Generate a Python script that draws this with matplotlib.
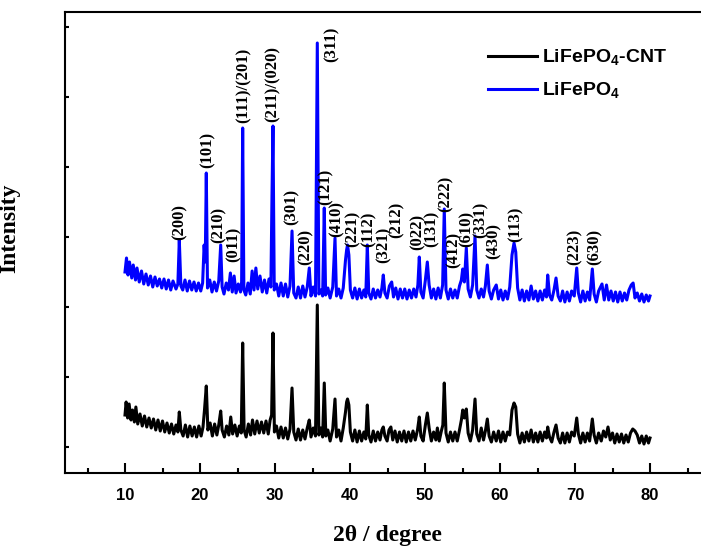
import numpy as np
import matplotlib
matplotlib.use('Agg')
import matplotlib.pyplot as plt
from matplotlib.ticker import MultipleLocator, FixedLocator

# XRD patterns (2-theta in degree, intensity in a.u.)
lfp_tth = [
    10.0, 10.2, 10.4, 10.6, 10.9, 11.1, 11.4, 11.6, 11.9, 12.2,
    12.5, 12.8, 13.1, 13.4, 13.7, 14.0, 14.3, 14.6, 14.9, 15.2,
    15.5, 15.8, 16.1, 16.4, 16.8, 17.05, 17.24, 17.45, 17.7, 18.0,
    18.3, 18.6, 18.9, 19.2, 19.5, 19.8, 20.1, 20.35, 20.55, 20.7,
    20.84, 21.0, 21.3, 21.6, 21.9, 22.2, 22.5, 22.76, 22.95, 23.2,
    23.5, 23.8, 24.05, 24.3, 24.55, 24.8, 25.1, 25.4, 25.55, 25.69,
    25.85, 26.1, 26.4, 26.7, 26.95, 27.2, 27.45, 27.7, 28.0, 28.3,
    28.6, 28.9, 29.2, 29.45, 29.6, 29.73, 29.9, 30.2, 30.5, 30.8,
    31.1, 31.4, 31.7, 32.0, 32.27, 32.5, 32.8, 33.1, 33.4, 33.7,
    34.0, 34.3, 34.57, 34.8, 35.1, 35.4, 35.64, 35.85, 36.1, 36.35,
    36.57, 36.75, 37.05, 37.35, 37.7, 38.0, 38.2, 38.5, 38.8, 39.1,
    39.4, 39.55, 39.67, 39.85, 40.05, 40.35, 40.65, 40.95, 41.25, 41.55,
    41.85, 42.1, 42.31, 42.5, 42.8, 43.1, 43.4, 43.7, 44.0, 44.25,
    44.44, 44.65, 44.95, 45.25, 45.56, 45.8, 46.1, 46.4, 46.7, 47.0,
    47.3, 47.6, 47.9, 48.2, 48.5, 48.8, 49.05, 49.24, 49.45, 49.75,
    50.05, 50.31, 50.55, 50.85, 51.15, 51.45, 51.75, 52.05, 52.35, 52.57,
    52.8, 53.1, 53.4, 53.7, 54.0, 54.3, 54.6, 54.85, 55.03, 55.25,
    55.51, 55.75, 56.05, 56.35, 56.67, 56.9, 57.2, 57.5, 57.8, 58.05,
    58.31, 58.55, 58.85, 59.15, 59.5, 59.8, 60.1, 60.4, 60.7, 61.0,
    61.3, 61.6, 61.87, 62.1, 62.35, 62.65, 62.95, 63.25, 63.55, 63.85,
    64.15, 64.45, 64.75, 65.05, 65.35, 65.65, 65.95, 66.2, 66.36, 66.6,
    66.9, 67.2, 67.47, 67.75, 68.05, 68.35, 68.65, 68.95, 69.25, 69.55,
    69.9, 70.23, 70.45, 70.75, 71.05, 71.35, 71.65, 71.95, 72.31, 72.55,
    72.85, 73.15, 73.6, 73.9, 74.2, 74.5, 74.8, 75.1, 75.4, 75.7,
    76.0, 76.3, 76.6, 76.9, 77.2, 77.5, 77.75, 78.0, 78.3, 78.6,
    78.9, 79.2, 79.5, 79.8, 80.0]
lfp_int = [
    280, 420, 250, 380, 220, 350, 200, 320, 180, 290,
    160, 260, 150, 240, 130, 230, 140, 210, 120, 210,
    110, 200, 100, 190, 110, 160, 600, 140, 100, 200,
    90, 190, 100, 180, 90, 170, 90, 170, 550, 380,
    1270, 120, 200, 80, 180, 90, 190, 550, 130, 60,
    170, 100, 270, 80, 240, 70, 160, 80, 180, 1720,
    100, 50, 170, 60, 290, 100, 320, 110, 240, 80,
    200, 70, 210, 130, 1050, 1740, 100, 160, 40, 170,
    40, 160, 30, 140, 690, 70, 20, 130, 20, 140,
    30, 130, 320, 40, 130, 40, 2570, 60, 100, 40,
    920, 50, 120, 20, 130, 620, 40, 110, 20, 120,
    400, 500, 550, 450, 100, 20, 120, 10, 110, 20,
    100, 30, 550, 70, 10, 110, 20, 100, 30, 120,
    250, 70, 20, 140, 180, 30, 120, 10, 110, 20,
    110, 10, 100, 20, 110, 30, 150, 430, 80, 20,
    200, 380, 150, 20, 110, 10, 120, 20, 150, 910,
    100, 10, 110, 20, 100, 20, 140, 200, 310, 180,
    520, 110, 30, 150, 640, 100, 20, 110, 30, 140,
    350, 90, 10, 100, 150, 10, 100, 0, 90, 10,
    130, 450, 570, 480, 120, 0, 100, -10, 90, 0,
    140, 10, 90, -10, 90, 0, 100, 30, 250, 50,
    0, 100, 220, 40, -10, 90, -20, 80, -10, 90,
    40, 320, 70, -20, 90, -10, 80, 0, 310, 60,
    -20, 90, 160, 0, 150, 0, 90, -10, 80, -20,
    80, -10, 70, 0, 100, 150, 170, 20, 70, -10,
    60, -20, 50, -10, 40]

cnt_tth = [
    10.0, 10.15, 10.35, 10.55, 10.8, 11.0, 11.25, 11.45, 11.7, 12.0,
    12.3, 12.6, 12.9, 13.2, 13.5, 13.8, 14.1, 14.4, 14.7, 15.0,
    15.3, 15.6, 15.9, 16.2, 16.5, 16.8, 17.05, 17.24, 17.45, 17.75,
    18.05, 18.35, 18.65, 18.95, 19.25, 19.55, 19.85, 20.15, 20.4, 20.6,
    20.84, 21.05, 21.35, 21.65, 21.95, 22.25, 22.5, 22.76, 22.95, 23.25,
    23.55, 23.85, 24.1, 24.35, 24.65, 24.95, 25.25, 25.5, 25.69, 25.88,
    26.15, 26.45, 26.75, 27.0, 27.3, 27.6, 27.9, 28.2, 28.5, 28.8,
    29.1, 29.35, 29.55, 29.73, 29.92, 30.2, 30.5, 30.8, 31.1, 31.4,
    31.7, 32.0, 32.27, 32.5, 32.8, 33.1, 33.4, 33.7, 34.0, 34.3,
    34.57, 34.8, 35.1, 35.4, 35.64, 35.85, 36.1, 36.35, 36.57, 36.78,
    37.05, 37.35, 37.7, 38.0, 38.2, 38.5, 38.8, 39.1, 39.4, 39.55,
    39.67, 39.85, 40.05, 40.35, 40.65, 40.95, 41.25, 41.55, 41.85, 42.1,
    42.31, 42.5, 42.8, 43.1, 43.4, 43.7, 44.0, 44.25, 44.44, 44.65,
    44.95, 45.2, 45.45, 45.7, 46.0, 46.3, 46.6, 46.9, 47.2, 47.5,
    47.8, 48.1, 48.4, 48.7, 49.0, 49.24, 49.45, 49.75, 50.05, 50.31,
    50.55, 50.85, 51.15, 51.45, 51.65, 51.9, 52.15, 52.38, 52.57, 52.8,
    53.1, 53.4, 53.7, 54.0, 54.3, 54.6, 54.85, 55.03, 55.25, 55.51,
    55.75, 56.05, 56.35, 56.67, 56.9, 57.2, 57.5, 57.8, 58.05, 58.31,
    58.55, 58.85, 59.15, 59.5, 59.8, 60.1, 60.4, 60.7, 61.0, 61.3,
    61.6, 61.87, 62.1, 62.35, 62.65, 62.95, 63.25, 63.55, 63.85, 64.15,
    64.45, 64.75, 65.05, 65.35, 65.65, 65.95, 66.2, 66.36, 66.6, 66.9,
    67.2, 67.47, 67.75, 68.05, 68.35, 68.65, 68.95, 69.25, 69.55, 69.9,
    70.23, 70.45, 70.75, 71.05, 71.35, 71.65, 71.95, 72.31, 72.55, 72.85,
    73.15, 73.5, 73.8, 74.1, 74.4, 74.7, 75.0, 75.3, 75.6, 75.9,
    76.2, 76.5, 76.8, 77.1, 77.4, 77.7, 78.0, 78.3, 78.6, 78.9,
    79.2, 79.5, 79.8, 80.0]
cnt_int = [
    300, 430, 270, 410, 250, 350, 230, 380, 210, 310,
    190, 290, 180, 270, 170, 260, 150, 250, 140, 240,
    130, 220, 120, 210, 110, 200, 130, 330, 150, 90,
    200, 80, 190, 90, 180, 80, 190, 90, 180, 350,
    590, 150, 220, 90, 210, 100, 200, 340, 150, 80,
    190, 100, 280, 110, 200, 90, 190, 120, 1020, 150,
    80, 210, 100, 250, 110, 240, 120, 230, 120, 240,
    110, 250, 300, 1120, 130, 190, 70, 180, 70, 170,
    60, 160, 570, 130, 50, 160, 50, 150, 60, 170,
    250, 80, 170, 90, 1400, 100, 170, 80, 620, 90,
    150, 40, 160, 460, 80, 150, 40, 170, 330, 430,
    460, 400, 130, 40, 150, 30, 140, 40, 130, 60,
    400, 100, 30, 140, 40, 130, 50, 150, 180, 90,
    40, 150, 180, 50, 140, 30, 130, 40, 140, 30,
    130, 40, 140, 50, 150, 280, 90, 40, 200, 320,
    170, 40, 130, 50, 170, 40, 130, 200, 620, 120,
    30, 130, 40, 130, 40, 150, 250, 350, 270, 360,
    120, 40, 150, 460, 110, 40, 170, 50, 140, 260,
    90, 30, 130, 40, 140, 30, 130, 40, 130, 100,
    350, 420, 380, 110, 20, 120, 30, 130, 40, 150,
    30, 120, 30, 130, 40, 130, 70, 180, 80, 30,
    130, 200, 70, 20, 120, 20, 120, 30, 130, 90,
    270, 110, 20, 120, 30, 120, 40, 260, 100, 20,
    120, 40, 140, 80, 180, 50, 120, 20, 110, 30,
    110, 20, 100, 30, 120, 160, 140, 100, 20, 90,
    10, 90, 20, 70]

# Miller indices marked above the LiFePO4 pattern
hkl_labels = ['(200)', '(101)', '(210)', '(011)', '(111)/(201)', '(211)/(020)',
              '(301)', '(220)', '(311)', '(121)', '(410)', '(221)', '(112)',
              '(321)', '(212)', '(022)', '(131)', '(222)', '(412)', '(610)',
              '(331)', '(430)', '(113)', '(223)', '(630)']
# where the labels sit (2-theta, bottom of label)
hkl_x = [17.24, 20.97, 22.44, 24.53, 25.77, 29.69, 32.17, 34.13, 37.56, 36.8,
         38.23, 40.36, 42.53, 44.53, 46.23, 48.97, 50.89, 52.76, 53.8, 55.6,
         57.45, 59.1, 62.13, 70.0, 72.67]
hkl_y = [2330, 3050, 2300, 2110, 3500, 3510, 2480, 2080, 4110, 2680,
         2360, 2260, 2260, 2100, 2350, 2230, 2260, 2610, 2050, 2260,
         2350, 2140, 2310, 2080, 2080]

cnt_offset = 280
lfp_offset = 1730

plt.rcParams['font.family'] = 'Liberation Sans'
plt.rcParams['font.weight'] = 'bold'
plt.rcParams['mathtext.fontset'] = 'custom'
plt.rcParams['mathtext.rm'] = 'Liberation Sans:bold'
plt.rcParams['mathtext.bf'] = 'Liberation Sans:bold'

fig = plt.figure(figsize=(7.01, 5.52), dpi=100)
ax = fig.add_axes([65 / 701, 1 - 473 / 552, 645 / 701, 461 / 552])

ax.plot(cnt_tth, np.array(cnt_int) + cnt_offset, color='black', lw=2.2,
        label='LiFePO$_4$-CNT')
ax.plot(lfp_tth, np.array(lfp_int) + lfp_offset, color='#0000ff', lw=2.2,
        label='LiFePO$_4$')

for lab, x, y in zip(hkl_labels, hkl_x, hkl_y):
    ax.text(x, y, lab, rotation=90, ha='center', va='bottom',
            family='Liberation Serif', weight='bold', fontsize=12)

ax.set_xlim(2, 88)
ax.set_ylim(0, 4610)
ax.xaxis.set_major_locator(FixedLocator([10, 20, 30, 40, 50, 60, 70, 80]))
ax.xaxis.set_minor_locator(MultipleLocator(5))
ax.yaxis.set_major_locator(FixedLocator([265, 965, 1665, 2365, 3065, 3765, 4465]))
ax.tick_params(axis='x', which='major', direction='in', length=7, width=1.5,
               pad=11, labelsize=12)
ax.tick_params(axis='x', which='minor', direction='in', length=3.5, width=1.5)
ax.tick_params(axis='y', which='major', direction='in', length=3, width=1.5,
               labelleft=False)
for sp in ax.spines.values():
    sp.set_linewidth(1.5)

ax.set_xlabel('2θ / degree', family='Liberation Serif', weight='bold', fontsize=17)
ax.set_ylabel('Intensity', family='Liberation Serif', weight='bold', fontsize=17)
ax.xaxis.set_label_coords(0.5, -0.113)
ax.yaxis.set_label_coords(-0.07, 0.531)

ax.legend(loc='upper left', bbox_to_anchor=(488 / 701, 1 - 48 / 552),
          bbox_transform=fig.transFigure, frameon=False, fontsize=14,
          handlelength=2.5, handletextpad=0.3, labelspacing=0.65,
          borderpad=0, borderaxespad=0)

fig.savefig('out.png', dpi=100)
